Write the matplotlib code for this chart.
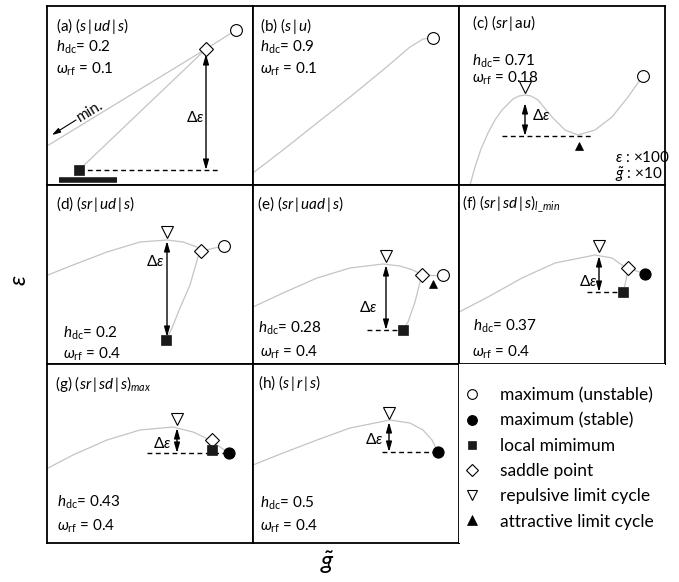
import matplotlib.pyplot as plt
from matplotlib.lines import Line2D

plt.rcParams['font.family'] = ['Lato', 'DejaVu Sans']
plt.rcParams['mathtext.fontset'] = 'custom'
plt.rcParams['mathtext.rm'] = 'Lato'
plt.rcParams['mathtext.it'] = 'Lato:italic'
plt.rcParams['mathtext.fallback'] = 'stixsans'

W, H = 679, 582
PW, PH = 206, 179          # panel size, panel units
CURVE = '#c4c4c4'
TFS = 11                    # panel text size

# ---------------- data (panel units, x = g~, y = eps) ----------------
# (a)
a_line_x = [0, 159, 189]
a_line_y = [39, 136, 155]
a_branch_x = [159, 32]
a_branch_y = [136, 15]
a_pts = {'max_u': (189, 155), 'saddle': (159, 136), 'min': (32, 15)}
a_de = (159, 15, 131)       # x, from, to
a_dash = (32, 173, 15)      # x0, x1, y

# (b)
b_x = [0, 30, 64, 97, 130, 157, 170, 180]
b_y = [12, 35, 62, 88, 115, 138, 146, 147]
b_pts = {'max_u': (180, 147)}

# (c)
c_x = [11, 16, 22, 29, 36, 43, 54, 60, 66, 72, 79, 93, 106, 119, 136, 153, 169, 181, 184]
c_y = [0, 18, 36, 52, 65, 75, 86, 89, 90, 89, 85, 68, 55, 50, 55, 68, 88, 105, 109]
c_pts = {'max_u': (184, 109), 'rep': (66, 98), 'att': (120, 39)}
c_de = (66, 49, 82)
c_dash = (43, 134, 49)

# (d)
d_x = [1, 26, 60, 93, 120, 136, 150, 154]
d_y = [89, 99, 112, 122, 124, 122, 117, 113]
d_branch_x = [154, 151, 143, 133, 125, 119]
d_branch_y = [113, 107, 79, 56, 36, 24]
d_right_x = [154, 177]
d_right_y = [113, 118]
d_pts = {'max_u': (177, 118), 'saddle': (154, 113), 'rep': (120, 132), 'min': (119, 24)}
d_de = (120, 27, 123)

# (e)
e_x = [0, 30, 64, 97, 130, 147, 160, 169]
e_y = [57, 71, 86, 96, 100, 98, 94, 89]
e_branch_x = [169, 167, 162, 155, 150]
e_branch_y = [89, 82, 62, 42, 34]
e_right_x = [169, 190]
e_right_y = [89, 89]
e_pts = {'max_u': (190, 89), 'saddle': (169, 89), 'rep': (133, 108),
         'min': (150, 34), 'att': (180, 80)}
e_de = (133, 34, 99)
e_dash = (114, 147, 34)

# (f)
f_x = [0, 29, 63, 96, 136, 153, 163, 169]
f_y = [52, 67, 86, 101, 109, 106, 99, 96]
f_branch_x = [169, 168, 166, 164]
f_branch_y = [96, 89, 79, 72]
f_right_x = [169, 186]
f_right_y = [96, 90]
f_pts = {'max_s': (186, 90), 'saddle': (169, 96), 'rep': (140, 118), 'min': (164, 72)}
f_de = (140, 72, 108)
f_dash = (128, 159, 72)

# (g)
g_x = [1, 26, 60, 93, 126, 146, 163, 173, 182]
g_y = [75, 88, 103, 113, 116, 111, 103, 96, 90]
g_pts = {'saddle': (165, 103), 'min': (165, 93), 'max_s': (182, 90), 'rep': (130, 124)}
g_de = (130, 90, 115)
g_dash = (100, 180, 90)

# (h)
h_x = [0, 30, 64, 97, 137, 157, 170, 179, 185]
h_y = [78, 90, 103, 115, 123, 120, 113, 103, 91]
h_pts = {'max_s': (185, 91), 'rep': (136, 130)}
h_de = (136, 91, 121)
h_dash = (129, 184, 91)

titles = {
    'a': r'(a) $(s\,|\,ud\,|\,s)$',
    'b': r'(b) $(s\,|\,u)$',
    'c': r'(c) $(sr\,|\,\mathrm{a}u)$',
    'd': r'(d) $(sr\,|\,ud\,|\,s)$',
    'e': r'(e) $(sr\,|\,uad\,|\,s)$',
    'f': r'(f) $(sr\,|\,sd\,|\,s)_{l\_min}$',
    'g': r'(g) $(sr\,|\,sd\,|\,s)_{max}$',
    'h': r'(h) $(s\,|\,r\,|\,s)$',
}
h_dc = {'a': '0.2', 'b': '0.9', 'c': '0.71', 'd': '0.2', 'e': '0.28',
        'f': '0.37', 'g': '0.43', 'h': '0.5'}
w_rf = {'a': '0.1', 'b': '0.1', 'c': '0.18', 'd': '0.4', 'e': '0.4',
        'f': '0.4', 'g': '0.4', 'h': '0.4'}

legend_keys = ['max_u', 'max_s', 'min', 'saddle', 'rep', 'att']
legend_labels = ['maximum (unstable)', 'maximum (stable)', 'local mimimum',
                 'saddle point', 'repulsive limit cycle', 'attractive limit cycle']

MK = {
    'max_u': dict(marker='o', ms=8.5, mfc='white', mec='black', mew=0.8),
    'max_s': dict(marker='o', ms=8, mfc='black', mec='black', mew=0.8),
    'min': dict(marker='s', ms=7, mfc='#1a1a1a', mec='#1a1a1a', mew=0.5),
    'saddle': dict(marker='D', ms=7, mfc='white', mec='black', mew=0.8),
    'rep': dict(marker='v', ms=8.5, mfc='white', mec='black', mew=0.8),
    'att': dict(marker='^', ms=6, mfc='black', mec='black', mew=0.5),
}
LEG_MS = {'max_u': 7, 'max_s': 7, 'min': 6, 'saddle': 6, 'rep': 7.5, 'att': 6.5}

fig = plt.figure(figsize=(W / 100, H / 100), dpi=100)


def panel(left, top, frame=True):
    ax = fig.add_axes([left / W, 1 - (top + PH) / H, PW / W, PH / H])
    ax.set_xlim(0, PW)
    ax.set_ylim(0, PH)
    ax.set_xticks([])
    ax.set_yticks([])
    for s in ax.spines.values():
        s.set_linewidth(1.3)
        s.set_visible(frame)
    return ax


def curve(ax, x, y):
    ax.plot(x, y, color=CURVE, lw=0.9, zorder=1, solid_capstyle='round')


def marks(ax, pts):
    for k, (x, y) in pts.items():
        ax.plot([x], [y], ls='none', zorder=5, **MK[k])


def darrow(ax, de):
    x, y0, y1 = de
    ax.annotate('', xy=(x, y1), xytext=(x, y0),
                arrowprops=dict(arrowstyle='<|-|>,head_length=0.6,head_width=0.17',
                                lw=1.0, color='black', shrinkA=0, shrinkB=0,
                                mutation_scale=10), zorder=3)


def dash(ax, d):
    x0, x1, y = d
    ax.plot([x0, x1], [y, y], color='black', lw=1.0, ls=(0, (3.5, 2.5)), zorder=2)


def labels(ax, key, xs, ys):
    ax.text(xs[0], ys[0], titles[key], fontsize=TFS, va='center', ha='left')
    ax.text(xs[1], ys[1], r'$h_{\mathrm{dc}}$= ' + h_dc[key], fontsize=TFS,
            va='center', ha='left')
    ax.text(xs[2], ys[2], r'$\omega_{\mathrm{rf}}$ = ' + w_rf[key], fontsize=TFS,
            va='center', ha='left')


def de_text(ax, x, y, ha='center'):
    ax.text(x, y, r'$\Delta\varepsilon$', fontsize=TFS, ha=ha, va='center')


cols = [47, 253, 459]
rows = [6, 185, 364]

# (a)
ax = panel(cols[0], rows[0])
curve(ax, a_line_x, a_line_y)
curve(ax, a_branch_x, a_branch_y)
marks(ax, a_pts)
darrow(ax, a_de)
dash(ax, a_dash)
de_text(ax, 148, 68)
ax.plot([12, 70], [5.5, 5.5], color='#1a1a1a', lw=4, solid_capstyle='butt')
ax.annotate('', xy=(5, 50), xytext=(29, 65),
            arrowprops=dict(arrowstyle='-|>,head_length=0.5,head_width=0.15',
                            lw=0.8, color='black', shrinkA=0, shrinkB=0))
ax.text(43, 74, 'min.', fontsize=TFS, rotation=31, ha='center', va='center',
        rotation_mode='anchor')
labels(ax, 'a', (9, 9, 9), (159, 138, 116))

# (b)
ax = panel(cols[1], rows[0])
curve(ax, b_x, b_y)
marks(ax, b_pts)
labels(ax, 'b', (7, 7, 7), (159, 138, 116))

# (c)
ax = panel(cols[2], rows[0])
curve(ax, c_x, c_y)
marks(ax, c_pts)
darrow(ax, c_de)
dash(ax, c_dash)
de_text(ax, 73, 70, ha='left')
ax.text(156, 27, r'$\varepsilon$ : ×100', fontsize=TFS, va='center')
ax.text(156, 10, r'$\tilde{g}$ : ×10', fontsize=TFS, va='center')
labels(ax, 'c', (13, 13, 13), (162, 124, 107))

# (d)
ax = panel(cols[0], rows[1])
curve(ax, d_x, d_y)
curve(ax, d_branch_x, d_branch_y)
curve(ax, d_right_x, d_right_y)
marks(ax, d_pts)
darrow(ax, d_de)
de_text(ax, 108, 102)
labels(ax, 'd', (9, 16, 16), (160, 31, 10))

# (e)
ax = panel(cols[1], rows[1])
curve(ax, e_x, e_y)
curve(ax, e_branch_x, e_branch_y)
curve(ax, e_right_x, e_right_y)
marks(ax, e_pts)
darrow(ax, e_de)
dash(ax, e_dash)
de_text(ax, 115, 57)
labels(ax, 'e', (4, 5, 7), (160, 36, 12))

# (f)
ax = panel(cols[2], rows[1])
curve(ax, f_x, f_y)
curve(ax, f_branch_x, f_branch_y)
curve(ax, f_right_x, f_right_y)
marks(ax, f_pts)
darrow(ax, f_de)
dash(ax, f_dash)
de_text(ax, 129, 82)
labels(ax, 'f', (3, 14, 13), (160, 38, 12))

# (g)
ax = panel(cols[0], rows[2])
curve(ax, g_x, g_y)
marks(ax, g_pts)
darrow(ax, g_de)
dash(ax, g_dash)
de_text(ax, 115, 100)
labels(ax, 'g', (8, 10, 10), (159, 41, 17))

# (h)
ax = panel(cols[1], rows[2])
curve(ax, h_x, h_y)
marks(ax, h_pts)
darrow(ax, h_de)
dash(ax, h_dash)
de_text(ax, 121, 103)
labels(ax, 'h', (5, 7, 7), (160, 40, 17))

# legend panel
ax = panel(cols[2], rows[2], frame=False)
handles = [Line2D([], [], ls='none', **{**MK[k], 'ms': LEG_MS[k]}) for k in legend_keys]
ax.legend(handles, legend_labels, loc='upper left', bbox_to_anchor=(0.029, 0.87),
          frameon=False, fontsize=12.5, handlelength=0.8, handletextpad=1.2,
          labelspacing=0.53, borderaxespad=0, borderpad=0)

fig.text(20 / W, 1 - 280 / H, r'$\varepsilon$', rotation=90, fontsize=17,
         ha='center', va='center')
fig.text(327 / W, 1 - 563 / H, r'$\tilde{g}$', fontsize=18, ha='center', va='center')

fig.savefig('out.png', dpi=100)
